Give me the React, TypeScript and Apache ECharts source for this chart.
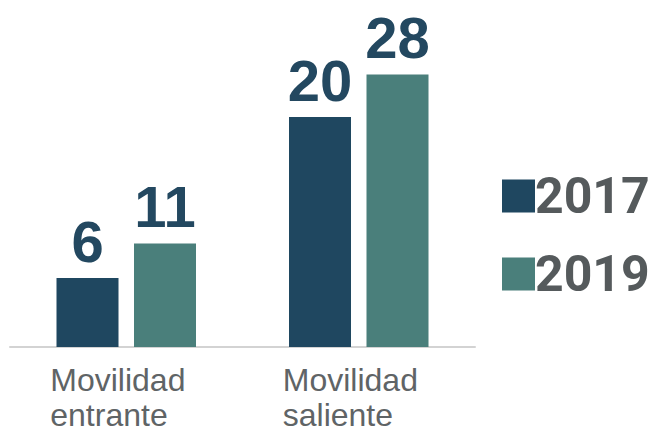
import React, { useEffect, useRef } from "react";
import * as echarts from "echarts";

const categories = ["Movilidad\nentrante", "Movilidad\nsaliente"];
const seriesNames = ["2017", "2019"];
// bar heights as drawn in the picture
const values2017 = [6, 20];
const values2019 = [9, 23.7];
// value labels as printed above the bars
const labels2017 = ["6", "20"];
const labels2019 = ["11", "28"];

const colors = ["#1f4760", "#4a7f7b"];

export default function App() {
  const ref = useRef<HTMLDivElement>(null);
  useEffect(() => {
    const chart = echarts.init(ref.current!, null, { renderer: "svg" });
    const labelStyle = (texts: string[]) => ({
      show: true,
      position: "top",
      distance: 8,
      formatter: (p: any) => texts[p.dataIndex],
      color: "#234860",
      fontFamily: "'Liberation Sans', sans-serif",
      fontWeight: "bold",
      fontSize: 58,
      lineHeight: 58,
    });
    chart.setOption({
      animation: false,
      grid: { left: 10, right: 179, top: 2, bottom: 86, containLabel: false },
      legend: {
        orient: "vertical",
        left: 497,
        top: 166,
        itemWidth: 33,
        itemHeight: 33,
        itemGap: 28,
        icon: "rect",
        itemStyle: { borderWidth: 0 },
        textStyle: {
          color: "#555a5c",
          fontFamily: "Roboto, 'Liberation Sans', sans-serif",
          fontWeight: "bold",
          fontSize: 50,
          padding: [10, 0, 0, -5],
        },
        data: seriesNames,
      },
      xAxis: {
        type: "category",
        data: categories,
        axisLine: { show: true, lineStyle: { color: "#d3d3d3", width: 2 } },
        axisTick: { show: false },
        axisLabel: {
          margin: 15,
          formatter: (v: string) =>
            v
              .split("\n")
              .map((s) => `{a|${s}}`)
              .join("\n"),
          rich: {
            a: {
              width: 140,
              align: "left",
              color: "#5f6466",
              fontFamily: "'Liberation Sans', sans-serif",
              fontSize: 32,
              lineHeight: 35,
            },
          },
          padding: [0, 12, 0, 0],
        },
      },
      yAxis: {
        type: "value",
        min: 0,
        max: 30,
        show: false,
        splitLine: { show: false },
      },
      series: [
        {
          name: seriesNames[0],
          type: "bar",
          data: values2017,
          barWidth: 62,
          barGap: "25%",
          itemStyle: { color: colors[0] },
          label: labelStyle(labels2017),
        },
        {
          name: seriesNames[1],
          type: "bar",
          data: values2019,
          barWidth: 62,
          barGap: "25%",
          itemStyle: { color: colors[1] },
          label: labelStyle(labels2019),
        },
      ],
    });
    return () => chart.dispose();
  }, []);
  return <div ref={ref} style={{ width: 654, height: 433, position: "absolute", left: 0, top: 0 }} />;
}
